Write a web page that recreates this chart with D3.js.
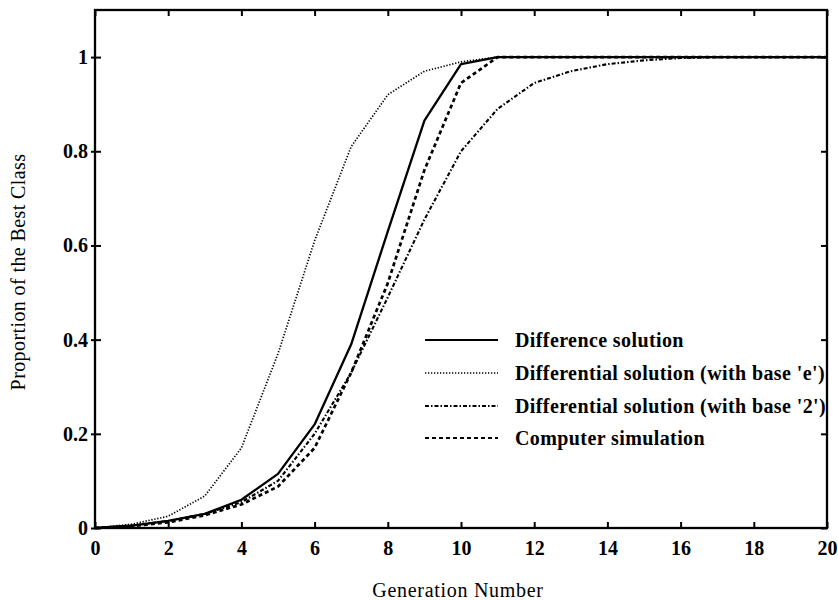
<!DOCTYPE html>
<html><head><meta charset="utf-8">
<script src="https://cdn.jsdelivr.net/npm/d3@7"></script>
<style>body{margin:0;background:#fff}</style>
</head><body>
<svg id="c" width="838" height="600"></svg>
<script>
const generations = [0,1,2,3,4,5,6,7,8,9,10,11,12,13,14,15,16,17,18,19,20];
const differenceSolution = [0,0.005,0.015,0.03,0.06,0.115,0.22,0.39,0.63,0.865,0.985,1,1,1,1,1,1,1,1,1,1];
const differentialE = [0,0.008,0.025,0.068,0.17,0.37,0.61,0.81,0.92,0.97,0.99,1,1,1,1,1,1,1,1,1,1];
const differential2 = [0,0.005,0.015,0.03,0.055,0.1,0.2,0.33,0.49,0.655,0.8,0.89,0.945,0.97,0.985,0.993,0.998,1,1,1,1];
const computerSimulation = [0,0.004,0.012,0.027,0.05,0.088,0.17,0.33,0.52,0.76,0.945,1,1,1,1,1,1,1,1,1,1];
const xTicks = [0,2,4,6,8,10,12,14,16,18,20];
const yTicks = [0,0.2,0.4,0.6,0.8,1];
const yTickLabels = ["0","0.2","0.4","0.6","0.8","1"];
const legendLabels = ["Difference solution","Differential solution (with base 'e')","Differential solution (with base '2')","Computer simulation"];

const svg = d3.select("#c");
const L=95,R=827,T=10,B=528;
const x = d3.scaleLinear().domain([0,20]).range([L,R]);
const y = d3.scaleLinear().domain([0,1.1]).range([B,T]);
const font = "'Liberation Serif','DejaVu Serif',serif";

const styles = [
  {data:differenceSolution, dash:null, w:2.3},
  {data:differentialE, dash:"1.3,1.7", w:1.7},
  {data:differential2, dash:"4,2,1.5,2", w:2.1},
  {data:computerSimulation, dash:"4,3", w:2.7}
];

const line = d3.line().x((d,i)=>x(generations[i])).y(d=>y(d));
const g = svg.append("g");
styles.forEach(s=>{
  g.append("path").attr("d",line(s.data)).attr("fill","none").attr("stroke","#000")
   .attr("stroke-width",s.w).attr("stroke-dasharray",s.dash).attr("stroke-linejoin","round");
});

// axes (inward ticks)
const ax = [
  [d3.axisBottom(x).tickValues(xTicks).tickSizeInner(-6).tickSizeOuter(0).tickPadding(13), `translate(0,${B})`],
  [d3.axisTop(x).tickValues(xTicks).tickSizeInner(-6).tickSizeOuter(0).tickFormat(""), `translate(0,${T})`],
  [d3.axisLeft(y).tickValues(yTicks).tickSizeInner(-6).tickSizeOuter(0).tickPadding(7).tickFormat((d,i)=>yTickLabels[i]), `translate(${L},0)`],
  [d3.axisLeft(y).tickValues(yTicks).tickSizeInner(4).tickSizeOuter(0).tickFormat(""), `translate(${L},0)`],
  [d3.axisRight(y).tickValues(yTicks).tickSizeInner(-6).tickSizeOuter(0).tickFormat(""), `translate(${R},0)`]
];
ax.forEach(([a,t])=>{
  const gg = svg.append("g").attr("transform",t).call(a);
  gg.select(".domain").remove();
  gg.selectAll("line").attr("stroke","#000").attr("stroke-width",2);
  gg.selectAll("text").attr("font-family",font).attr("font-size",20).attr("font-weight","bold").attr("fill","#000");
});
svg.append("rect").attr("x",L).attr("y",T).attr("width",R-L).attr("height",B-T)
  .attr("fill","none").attr("stroke","#000").attr("stroke-width",2.3);

// labels
svg.append("text").attr("x",458).attr("y",597).attr("text-anchor","middle")
  .attr("font-family",font).attr("font-size",20).attr("letter-spacing",0.7).text("Generation Number");
svg.append("text").attr("transform","translate(25,272) rotate(-90)").attr("text-anchor","middle")
  .attr("font-family",font).attr("font-size",20).attr("letter-spacing",0.4).text("Proportion of the Best Class");

// legend
const ly = [340,373,406,438];
styles.forEach((s,i)=>{
  svg.append("line").attr("x1",425).attr("x2",498).attr("y1",ly[i]).attr("y2",ly[i])
    .attr("stroke","#000").attr("stroke-width",i==1?1.4:(i==0?2.2:1.8)).attr("stroke-dasharray",s.dash);
  svg.append("text").attr("x",515).attr("y",ly[i]+7).attr("font-family",font)
    .attr("font-size",20).attr("font-weight","bold").attr("letter-spacing",0.4).attr("fill","#000").text(legendLabels[i]);
});
</script>
</body></html>
